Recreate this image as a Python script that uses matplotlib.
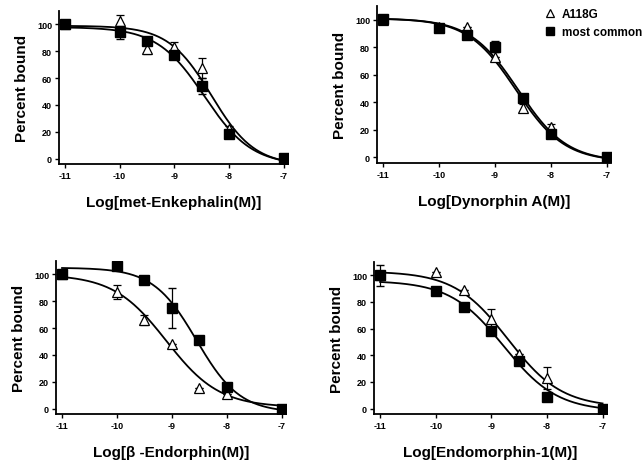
import numpy as np
import matplotlib
matplotlib.use('Agg')
import matplotlib.pyplot as plt
from matplotlib.lines import Line2D

plt.rcParams['font.family'] = ['Liberation Sans', 'DejaVu Sans']

# concentraciones (log M), las mismas para los cuatro paneles
log_conc = [-11, -10, -9.5, -9, -8.5, -8, -7]

titulos = ['Log[met-Enkephalin(M)]', 'Log[Dynorphin A(M)]',
           'Log[β -Endorphin(M)]', 'Log[Endomorphin-1(M)]']

# valores: "most common" (cuadrados) y A118G (triangulos)
comun = [
    [100, 94, 88, 77, 54, 18, 0.5],
    [100.5, 94, 89, 80.5, 43, 17, 0],
    [100, 106, 96, 75, 51, 16, 0],
    [100, 88, 76.5, 58, 35.6, 8.7, 0],
]
comun_err = [
    [0, 5, 0, 0, 6, 0, 0],
    [0, 0, 0, 4, 0, 0, 0],
    [0, 0, 0, 15, 0, 0, 0],
    [8, 0, 0, 0, 0, 0, 3],
]
a118g = [
    [100, 102.5, 82, 83, 67.5, 22, 0],
    [100, 95, 95, 73, 36, 22, 0],
    [100, 87, 66, 48, 15.7, 11, 0],
    [100, 102.5, 89, 67, 41, 23, 0],
]
a118g_err = [
    [0, 4.5, 4, 4, 7.5, 2, 0],
    [0, 0, 0, 0, 3, 2, 0],
    [0, 5, 4, 0, 0, 0, 0],
    [0, 0, 0, 8, 0, 8, 0],
]

# parametros de las curvas ajustadas (top, bottom, logIC50, pendiente)
ajuste_comun = [
    (98, -5, -8.45, 1.0),
    (101, -3, -8.58, 1.0),
    (105, -3, -8.55, 1.1),
    (96, -2, -8.78, 0.9),
]
ajuste_a118g = [
    (99, -5, -8.32, 1.1),
    (101, -3, -8.62, 1.0),
    (100, 1, -9.1, 0.9),
    (103, 1, -8.7, 0.9),
]

# cajas de cada panel en pixeles (izq, der, arriba, abajo)
cajas = [(59, 288, 12, 165), (377, 611, 7, 164),
         (56, 286, 262, 415), (374, 607, 263, 415)]

W, H = 644, 464


def logistica(x, top, bottom, ic50, h):
    return bottom + (top - bottom) / (1 + 10 ** ((x - ic50) * h))


fig = plt.figure(figsize=(W / 100, H / 100), dpi=100)
xx = np.linspace(-11, -7, 300)

for i in range(4):
    l, r, t, b = cajas[i]
    ax = fig.add_axes([l / W, 1 - b / H, (r - l) / W, (b - t) / H])

    ax.plot(xx, logistica(xx, *ajuste_a118g[i]), color='black', lw=1.3, zorder=2)
    ax.plot(xx, logistica(xx, *ajuste_comun[i]), color='black', lw=1.3, zorder=2)

    ax.errorbar(log_conc, a118g[i], yerr=a118g_err[i], fmt='^', ms=7,
                mfc='white', mec='black', mew=0.9, ecolor='black',
                elinewidth=0.9, capsize=3, zorder=3)
    ax.errorbar(log_conc, comun[i], yerr=comun_err[i], fmt='s', ms=7,
                mfc='black', mec='black', ecolor='black',
                elinewidth=0.9, capsize=3, zorder=4)

    ax.set_xlim(-11.11, -6.92)
    ax.set_ylim(-4, 110)
    ax.set_xticks([-11, -10, -9, -8, -7])
    ax.set_xticklabels(['-11', '-10', '-9', '-8', '-7'])
    ax.set_yticks([0, 20, 40, 60, 80, 100])
    for s in ['top', 'right']:
        ax.spines[s].set_visible(False)
    for s in ['left', 'bottom']:
        ax.spines[s].set_linewidth(1.3)
    ax.tick_params(direction='out', length=3, width=1, labelsize=6.5, pad=2)
    for lab in ax.get_xticklabels() + ax.get_yticklabels():
        lab.set_fontweight('bold')
    ax.set_xlabel(titulos[i], fontsize=11, fontweight='bold', labelpad=11)
    ax.set_ylabel('Percent bound', fontsize=11, fontweight='bold', labelpad=6)

    if i == 1:
        handles = [Line2D([], [], ls='none', marker='^', ms=6, mfc='white',
                          mec='black', mew=0.9),
                   Line2D([], [], ls='none', marker='s', ms=6, mfc='black',
                          mec='black')]
        ax.legend(handles, ['A118G', 'most common'], frameon=False,
                  loc='upper left', bbox_to_anchor=(0.69, 1.025),
                  handlelength=1.0, handletextpad=0.5, borderpad=0,
                  labelspacing=0.5, prop={'size': 8.5, 'weight': 'bold'})

fig.savefig('out.png', dpi=100)
